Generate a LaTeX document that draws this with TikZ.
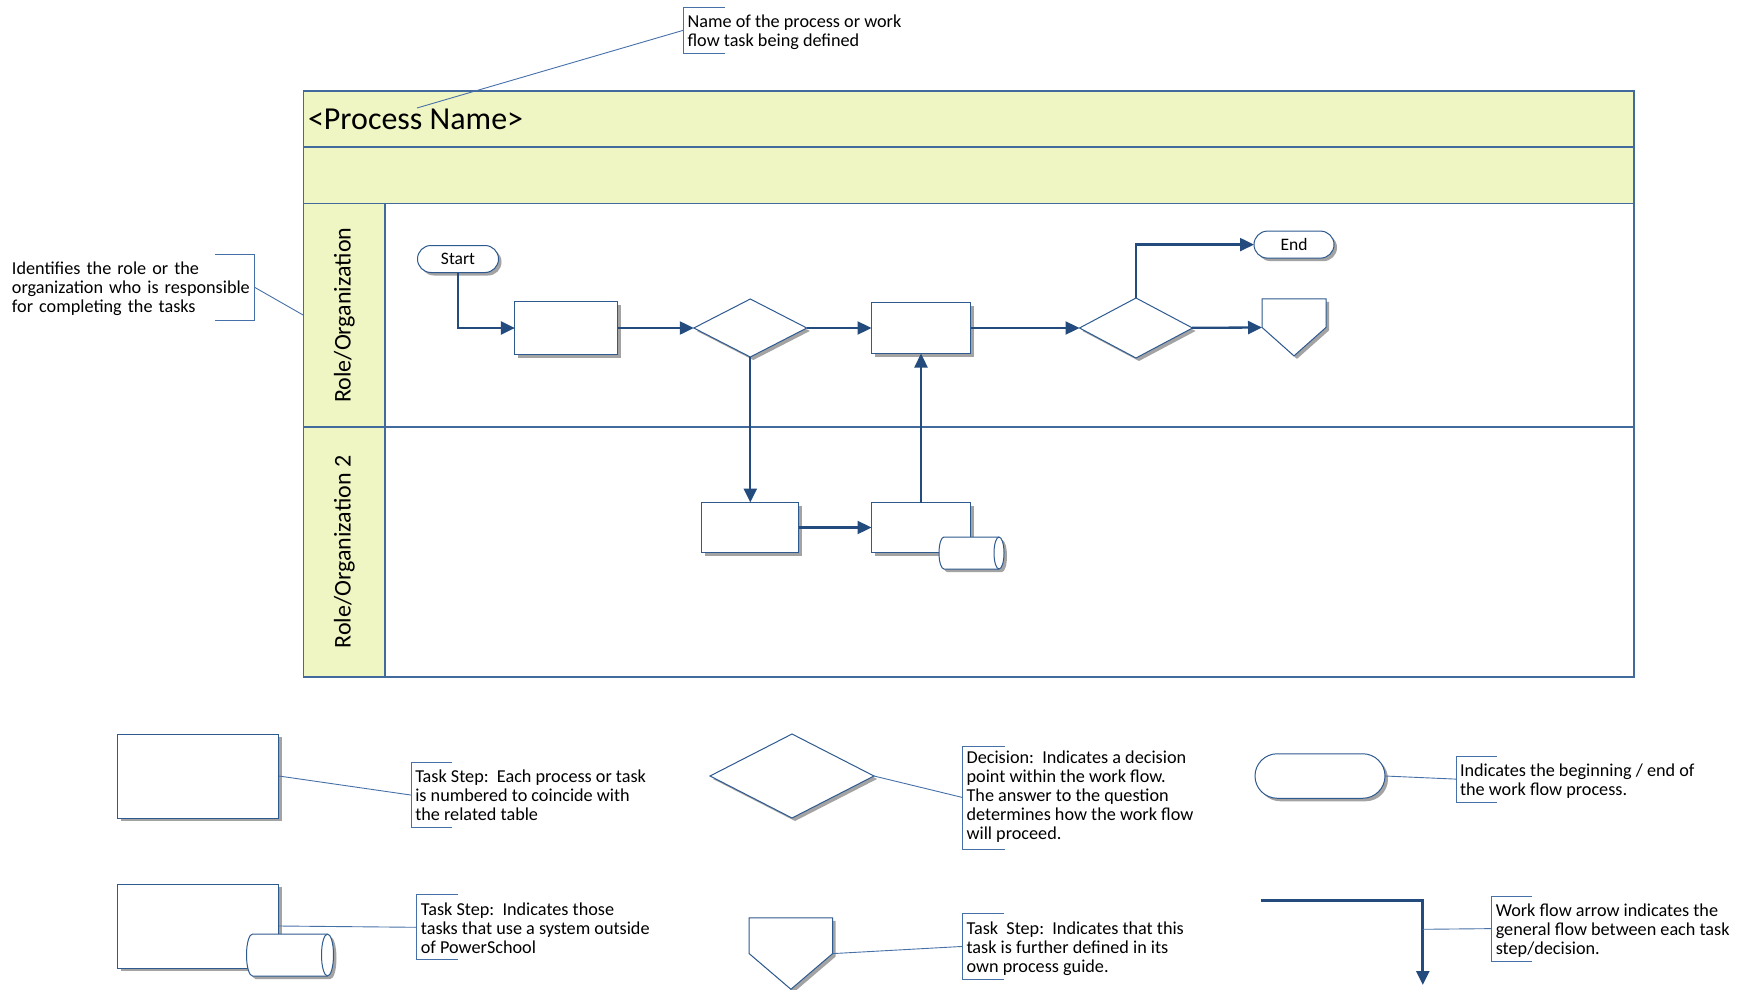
\documentclass[tikz,border=0pt]{standalone}
\usepackage{fontspec}
\setmainfont{Carlito}
\usetikzlibrary{arrows.meta,shapes.geometric,shapes.misc,shadows,calc}
\definecolor{lanefill}{HTML}{F0F6C3}
\definecolor{frameblue}{HTML}{436A9C}
\definecolor{shapeblue}{HTML}{2E5A8F}
\definecolor{arrowblue}{HTML}{234B7E}
\definecolor{noteblue}{HTML}{4670A8}
\definecolor{shadowgray}{HTML}{A3A3A3}
\newcommand{\topst}{\rule{0pt}{16.3pt}}
\newcommand{\botst}{\rule[-2.7pt]{0pt}{2.7pt}}
\begin{document}
\begin{tikzpicture}[x=1pt,y=-1pt,
  every node/.style={inner sep=0pt,outer sep=0pt},
  shd/.style={drop shadow={shadow xshift=3pt,shadow yshift=-3pt,fill=shadowgray,opacity=1}},
  shp/.style={shd,draw=shapeblue,line width=1pt,fill=white},
  taskbox/.style={shp,rectangle},
  decision/.style={shp,diamond},
  terminal/.style={shp,rounded rectangle,font=\fontsize{17.5}{19}\selectfont},
  shapeline/.style={draw=shapeblue,line width=1pt},
  flow/.style={draw=arrowblue,line width=2.3pt,-{Triangle[length=14pt,width=13pt]}},
  noteline/.style={draw=noteblue,line width=0.9pt},
  notetext/.style={align=left,anchor=north west,inner xsep=4pt,inner ysep=4pt,font=\fontsize{18.2}{19}\selectfont},
  lanebox/.style={draw=frameblue,line width=1.3pt,fill=lanefill},
  bodybox/.style={draw=frameblue,line width=1.3pt,fill=white},
  lanelabel/.style={rotate=90,font=\fontsize{24}{28}\selectfont},
]
\useasboundingbox (0,0) rectangle (1743,990);

% ---------- swimlane frame ----------
\node[lanebox,minimum width=1330.5pt,minimum height=56pt,anchor=north west] (title) at (303.5,91) {};
\node[anchor=west,font=\fontsize{32}{36}\selectfont] (titletext) at (308,119) {<Process Name>};
\node[lanebox,minimum width=1330.5pt,minimum height=56.5pt,anchor=north west] (sub) at (303.5,147) {};
\node[lanebox,minimum width=81.5pt,minimum height=223.5pt,anchor=north west] (lc1) at (303.5,203.5) {};
\node[bodybox,minimum width=1249pt,minimum height=223.5pt,anchor=north west] (lb1) at (385,203.5) {};
\node[lanebox,minimum width=81.5pt,minimum height=250pt,anchor=north west] (lc2) at (303.5,427) {};
\node[bodybox,minimum width=1249pt,minimum height=250pt,anchor=north west] (lb2) at (385,427) {};
\node[lanelabel] (lab1) at (lc1.center) {Role/Organization};
\node[lanelabel] (lab2) at (lc2.center) {Role/Organization 2};

% ---------- process shapes ----------
\node[terminal,minimum width=81pt,minimum height=27pt] (start) at (458,259) {Start};
\node[taskbox,minimum width=103pt,minimum height=53pt] (t1) at (566.4,328) {};
\node[decision,minimum width=113pt,minimum height=58pt] (d1) at (750.3,328) {};
\node[taskbox,minimum width=99pt,minimum height=51pt] (t2) at (921,328) {};
\node[decision,minimum width=113pt,minimum height=60pt] (d2) at (1136,328) {};
\node[terminal,minimum width=80pt,minimum height=27pt] (finish) at (1294,244.6) {End};
\node[minimum width=64pt,minimum height=57pt] (pg) at (1294,327.4) {};
\draw[shp] (pg.north west) -- (pg.north east) -- (pg.east) -- (pg.south) -- (pg.west) -- cycle;
\node[taskbox,minimum width=97pt,minimum height=50pt] (tA) at (750.3,527.5) {};
\node[taskbox,minimum width=99pt,minimum height=50pt] (tB) at (921,527.5) {};
% storage cylinder on tB
\node[minimum width=65pt,minimum height=32pt] (cyl) at (971.5,553) {};
\draw[shp] ($(cyl.north east)+(-5,0)$) -- ($(cyl.north west)+(5,0)$)
  arc[start angle=90,end angle=270,x radius=5pt,y radius=16pt]
  -- ($(cyl.south east)+(-5,0)$)
  arc[start angle=-90,end angle=90,x radius=5pt,y radius=16pt] -- cycle;
\draw[shapeline] ($(cyl.north east)+(-5,0)$) arc[start angle=90,end angle=270,x radius=5pt,y radius=16pt];

% ---------- flow arrows ----------
\draw[flow] (start) |- (t1);
\draw[flow] (t1) -- (d1);
\draw[flow] (d1) -- (t2);
\draw[flow] (t2) -- (d2);
\draw[flow] (d2) |- (finish);
\draw[flow] (d2) -- (pg);
\draw[flow] (d1) -- (tA);
\draw[flow] (tA) -- (tB);
\draw[flow] (tB) -- (t2);

% ---------- annotations ----------
\node[notetext] (n1) at (683.6,7) {\topst Name of the process or work\\flow task being defined\botst};
\draw[noteline] ($(n1.north west)+(41,0)$) -- (n1.north west) -- (n1.south west) -- ++(41,0);
\coordinate (titlept) at (417,108);
\draw[noteline] (n1.west) -- (titlept);

\node[notetext,text width=238.6pt] (n2) at (8,254.6) {\topst Identifies the role or the\\organization who is responsible\\for completing the tasks\botst};
\draw[noteline] ($(n2.north east)+(-40,0)$) -- (n2.north east) -- (n2.south east) -- ++(-40,0);
\draw[noteline] (n2.east) -- (lc1.west);

% ---------- legend ----------
\node[taskbox,minimum width=161pt,minimum height=84pt] (L1) at (198.4,776) {};
\node[notetext] (n3) at (411.3,762.6) {\topst Task Step:\ \ Each process or task\\is numbered to coincide with\\the related table\botst};
\draw[noteline] ($(n3.north west)+(41,0)$) -- (n3.north west) -- (n3.south west) -- ++(41,0);
\draw[noteline] (L1.east) -- (n3.west);

\node[decision,minimum width=164pt,minimum height=84pt] (L2) at (792,776) {};
\node[notetext] (n4) at (962.6,746) {\strut Decision:\ \ Indicates a decision\\point within the work flow.\\The answer to the question\\determines how the work flow\\will proceed.\strut};
\draw[noteline] ($(n4.north west)+(42,0)$) -- (n4.north west) -- (n4.south west) -- ++(42,0);
\draw[noteline] (L2.east) -- (n4.west);

\node[terminal,minimum width=130pt,minimum height=44.5pt] (L3) at (1320,776) {};
\node[notetext] (n5) at (1456,756) {\topst Indicates the beginning / end of\\the work flow process.\botst};
\draw[noteline] ($(n5.north west)+(41,0)$) -- (n5.north west) -- (n5.south west) -- ++(41,0);
\draw[noteline] (L3.east) -- (n5.west);

\node[taskbox,minimum width=161pt,minimum height=84pt] (L4) at (198.4,926) {};
\node[notetext] (n6) at (416.9,894.8) {\topst Task Step:\ \ Indicates those\\tasks that use a system outside\\of PowerSchool\botst};
\draw[noteline] ($(n6.north west)+(41,0)$) -- (n6.north west) -- (n6.south west) -- ++(41,0);
\draw[noteline] (L4.east) -- (n6.west);
\node[minimum width=87pt,minimum height=42pt] (L4c) at (290,955) {};
\draw[shp] ($(L4c.north east)+(-6,0)$) -- ($(L4c.north west)+(6,0)$)
  arc[start angle=90,end angle=270,x radius=6pt,y radius=21pt]
  -- ($(L4c.south east)+(-6,0)$)
  arc[start angle=-90,end angle=90,x radius=6pt,y radius=21pt] -- cycle;
\draw[shapeline] ($(L4c.north east)+(-6,0)$) arc[start angle=90,end angle=270,x radius=6pt,y radius=21pt];

\node[minimum width=83.4pt,minimum height=71.3pt] (L5) at (790.9,953.6) {};
\draw[shp] (L5.north west) -- (L5.north east) -- (L5.east) -- (L5.south) -- (L5.west) -- cycle;
\node[notetext] (n7) at (962.6,913.7) {\topst Task\ \ Step:\ \ Indicates that this\\task is further defined in its\\own process guide.\botst};
\draw[noteline] ($(n7.north west)+(41,0)$) -- (n7.north west) -- (n7.south west) -- ++(41,0);
\draw[noteline] (L5.east) -- (n7.west);

\coordinate (L6a) at (1260.6,900.4);
\coordinate (L6b) at (1422.8,900.4);
\coordinate (L6c) at (1422.8,985);
\coordinate (L6m) at (1422.8,929.3);
\draw[flow,line width=2.8pt] (L6a) -- (L6b) -- (L6c);
\node[notetext] (n8) at (1491.8,896) {\topst Work flow arrow indicates the\\general flow between each task\\step/decision.\botst};
\draw[noteline] ($(n8.north west)+(40,0)$) -- (n8.north west) -- (n8.south west) -- ++(40,0);
\draw[noteline] (L6m) -- (n8.west);
\end{tikzpicture}
\end{document}
